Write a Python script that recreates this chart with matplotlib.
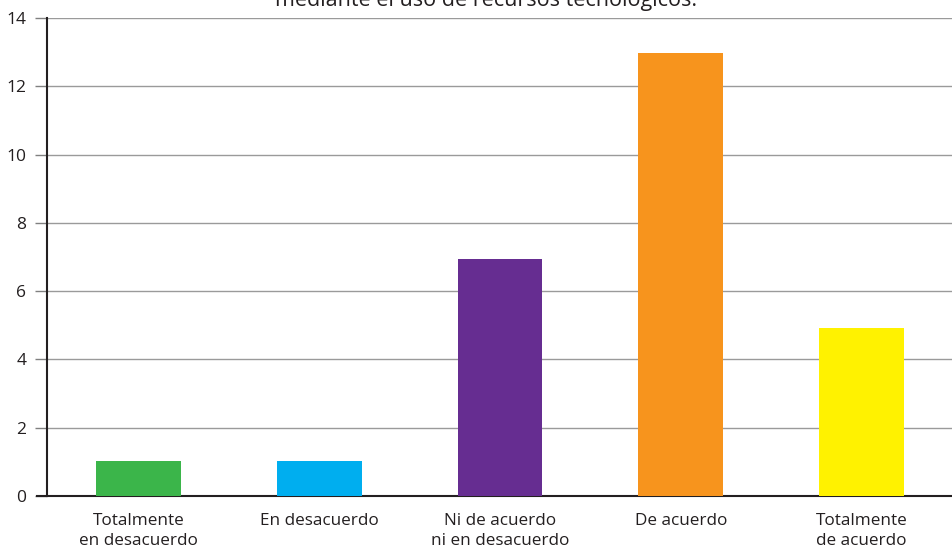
import matplotlib
matplotlib.use("Agg")
import matplotlib.pyplot as plt

categories = ["Totalmente\nen desacuerdo", "En desacuerdo", "Ni de acuerdo\nni en desacuerdo",
              "De acuerdo", "Totalmente\nde acuerdo"]
values = [1.02, 1.02, 6.93, 12.98, 4.92]
colors = ["#3bb54a", "#00aeef", "#662d91", "#f7941d", "#fff200"]
yticks = [0, 2, 4, 6, 8, 10, 12, 14]
title_line = "mediante el uso de recursos tecnológicos."

plt.rcParams['font.family'] = ['Open Sans', 'DejaVu Sans']
W, H = 953, 553
fig = plt.figure(figsize=(W / 100, H / 100), dpi=100)
ax = fig.add_axes([47 / W, 1 - 496 / H, (W - 47) / W, (496 - 18) / H])

x = list(range(len(categories)))
ax.bar(x, values, width=0.47, color=colors, zorder=3)
ax.set_xlim(-0.505, 4.505)
ax.set_ylim(0, 14)
ax.set_yticks(yticks)
ax.set_yticklabels([str(v) for v in yticks], fontsize=12.5, color="#231f20")
ax.set_xticks(x)
ax.set_xticklabels(categories, fontsize=12.3, color="#231f20", linespacing=1.4)
ax.tick_params(axis='x', length=0, pad=12)
ax.tick_params(axis='y', length=9, width=1, color="#808080", pad=6)
ax.yaxis.grid(True, color="#9a9a9a", linewidth=1, zorder=0)
for s in ["top", "right"]:
    ax.spines[s].set_visible(False)
ax.spines["left"].set_color("#231f20")
ax.spines["left"].set_linewidth(1.5)
ax.spines["bottom"].set_color("#231f20")
ax.spines["bottom"].set_linewidth(1.5)
ax.spines["bottom"].set_bounds(-0.56, 4.505)
ax.spines["bottom"].set_clip_on(False)

fig.text(486 / W, 1 - 6 / H, title_line, ha="center", va="baseline",
         fontsize=15.5, color="#231f20")

fig.savefig("out.png", dpi=100)
